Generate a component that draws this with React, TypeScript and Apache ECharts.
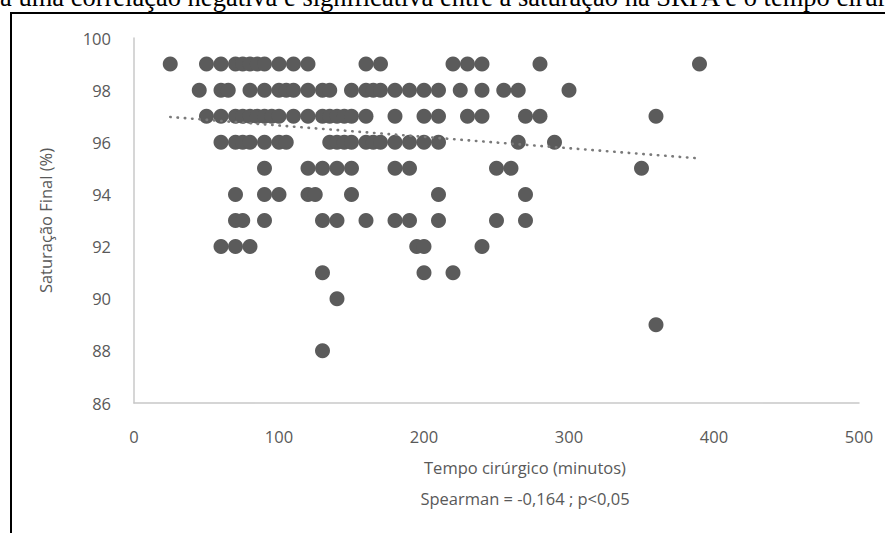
import React, { useEffect, useRef } from "react";
import * as echarts from "echarts";

const headerText =
  "Há uma correlação negativa e significativa entre a saturação na SRPA e o tempo cirúrgico";
const xAxisTitle = "Tempo cirúrgico (minutos)";
const statsText = "Spearman = -0,164 ; p<0,05";
const yAxisTitle = "Saturação Final (%)";

// Tempo cirúrgico (minutos) of each patient, grouped by final saturation (%)
const tempo99 = [25, 50, 60, 70, 75, 80, 85, 90, 100, 110, 120, 160, 170, 220, 230, 240, 280, 390];
const tempo98 = [45, 60, 65, 80, 90, 100, 105, 110, 120, 130, 135, 150, 160, 165, 170, 180, 190, 200, 210, 225, 240, 255, 265, 300];
const tempo97 = [50, 60, 70, 75, 80, 85, 90, 95, 100, 110, 120, 130, 135, 140, 145, 150, 160, 180, 200, 210, 230, 240, 270, 280, 360];
const tempo96 = [60, 70, 75, 80, 90, 100, 105, 135, 140, 145, 150, 160, 165, 170, 180, 190, 200, 210, 265, 290];
const tempo95 = [90, 120, 130, 140, 150, 180, 190, 250, 260, 350];
const tempo94 = [70, 90, 100, 120, 125, 150, 210, 270];
const tempo93 = [70, 75, 90, 130, 140, 160, 180, 190, 210, 250, 270];
const tempo92 = [60, 70, 80, 195, 200, 240];
const tempo91 = [130, 200, 220];
const tempo90 = [140];
const tempo89 = [360];
const tempo88 = [130];

const saturationLevels = [99, 98, 97, 96, 95, 94, 93, 92, 91, 90, 89, 88];
const tempoBySaturation = [
  tempo99, tempo98, tempo97, tempo96, tempo95, tempo94,
  tempo93, tempo92, tempo91, tempo90, tempo89, tempo88,
];

// Linear trendline end points (tempo, saturação)
const trendX = [25, 390];
const trendY = [96.97, 95.38];

const xTicks = { min: 0, max: 500, interval: 100 };
const yTicks = { min: 86, max: 100, interval: 2 };

export default function App() {
  const ref = useRef<HTMLDivElement>(null);

  useEffect(() => {
    if (!ref.current) return;
    const chart = echarts.init(ref.current, undefined, { renderer: "svg" });

    const points: number[][] = [];
    saturationLevels.forEach((s, i) => {
      tempoBySaturation[i].forEach((t) => points.push([t, s]));
    });
    const trend = trendX.map((x, i) => [x, trendY[i]]);

    const font = "'Open Sans', 'DejaVu Sans', sans-serif";
    const gray = "#595959";

    chart.setOption({
      animation: false,
      backgroundColor: "#ffffff",
      grid: { left: 134, right: 26, top: 38, bottom: 130, containLabel: false },
      xAxis: {
        type: "value",
        min: xTicks.min,
        max: xTicks.max,
        interval: xTicks.interval,
        axisLine: { show: true, onZero: false, lineStyle: { color: "#c8c8c8", width: 1.5 } },
        axisTick: { show: false },
        splitLine: { show: false },
        axisLabel: { color: gray, fontFamily: font, fontSize: 16.5, margin: 25 },
      },
      yAxis: {
        type: "value",
        min: yTicks.min,
        max: yTicks.max,
        interval: yTicks.interval,
        axisLine: { show: true, onZero: false, lineStyle: { color: "#c8c8c8", width: 1.5 } },
        axisTick: { show: false },
        splitLine: { show: false },
        axisLabel: { color: gray, fontFamily: font, fontSize: 16.5, margin: 23 },
        name: yAxisTitle,
        nameLocation: "middle",
        nameGap: 80,
        nameTextStyle: { color: gray, fontFamily: font, fontSize: 16.5 },
      },
      series: [
        {
          type: "scatter",
          data: points,
          symbol: "circle",
          symbolSize: 15,
          itemStyle: { color: "#5b5b5b", opacity: 1 },
          z: 2,
        },
        {
          type: "line",
          data: trend,
          showSymbol: false,
          symbol: "none",
          lineStyle: { color: "#7a7a7a", width: 2.6, type: [0.4, 6.9], cap: "round" },
          z: 3,
        },
      ],
      graphic: [
        {
          type: "text",
          x: -19.1,
          y: -2.6,
          style: {
            text: headerText,
            font: "26.5px 'Liberation Serif', 'Times New Roman', serif",
            fill: "#000000",
            verticalAlign: "middle",
            align: "left",
          },
        },
        {
          type: "rect",
          shape: { x: 11, y: 13, width: 1000, height: 1000 },
          style: { fill: "none", stroke: "#000000", lineWidth: 2 },
        },
        {
          type: "text",
          x: 525,
          y: 467,
          style: {
            text: xAxisTitle,
            fontFamily: font,
            fontSize: 16.5,
            fill: gray,
            align: "center",
            verticalAlign: "middle",
          },
        },
        {
          type: "text",
          x: 525,
          y: 498,
          style: {
            text: statsText,
            fontFamily: font,
            fontSize: 16.5,
            fill: gray,
            align: "center",
            verticalAlign: "middle",
          },
        },
      ],
    });

    return () => chart.dispose();
  }, []);

  return (
    <div
      ref={ref}
      style={{ position: "fixed", left: 0, top: 0, width: 885, height: 533, background: "#fff" }}
    />
  );
}
